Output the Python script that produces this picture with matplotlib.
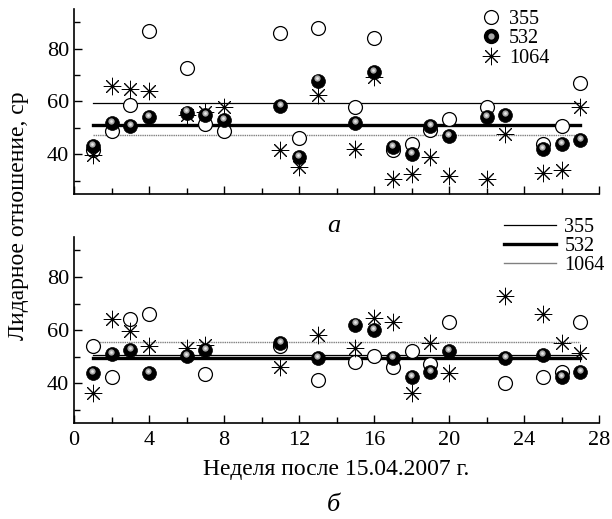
import matplotlib
matplotlib.use("Agg")
import matplotlib.pyplot as plt
import matplotlib.transforms as mtransforms
from matplotlib.lines import Line2D
from matplotlib.legend_handler import HandlerTuple
import numpy as np

nan = np.nan

# panel a: markers per week
weeks_a = [1, 2, 3, 4, 6, 7, 8, 11, 12, 13, 15, 16, 17, 18, 19, 20, 22, 23, 25, 26, 27]
c355_a = [41.5, 48.8, 58.7, 86.8, 72.7, 51.6, 49, 85.8, 46.2, 87.8, 57.8, 83.9, 41.5, 44,
          49.4, 53.3, 57.8, nan, 43.8, 50.9, 66.9]
c532_a = [43, 51.8, 50.8, 54, 55.8, 54.7, 53.1, 58.1, 39, 67.9, 52, 71, 42.8, 40.3,
          50.7, 47, 54, 55, 42.1, 44, 45.3]
c1064_a = [39.6, 66, 64.8, 63.9, 54.7, 56, 57.8, 41.8, 35.2, 62.3, 41.9, 69.4, 30.8, 32.7,
           39, 32, 30.8, 47.8, 32.9, 34, 57.8]
mean_a = {"355": 59.5, "532": 51.0, "1064": 47.3}

# panel b
weeks_b = [1, 2, 3, 4, 6, 7, 11, 13, 15, 16, 17, 18, 19, 20, 23, 25, 26, 27]
c355_b = [54.1, 42.2, 64.1, 65.9, nan, 43.3, 54, 41.2, 48, 50.2, 46.2, 52.2, 47.4, 63.1,
          40.2, 42.4, 44.3, 63.1]
c532_b = [43.9, 50.9, 52.4, 43.9, 50.2, 52.4, 55.2, 49.3, 62.1, 60, 49.3, 42.4, 44.3, 52.2,
          49.3, 50.6, 42.4, 44.3]
c1064_b = [36.2, 64.1, 59.6, 54, 53.1, 54.3, 46.2, 58.1, 53.3, 64.4, 63.1, 36.2, 55.2, 43.7,
           72.7, 65.9, 55, 51.2]
mean_b = {"355": 50.5, "532": 49.5, "1064": 55.5}

line_span = [1, 27]

plt.rcParams['font.family'] = ['Liberation Serif', 'DejaVu Serif']
plt.rcParams['font.size'] = 16

fig = plt.figure(figsize=(6.12, 5.19), dpi=100)
ax_a = fig.add_axes([0.121, 0.626, 0.858, 0.357])
ax_b = fig.add_axes([0.121, 0.185, 0.858, 0.358])

MS = 10


def draw_points(ax, weeks, c355, c532, c1064):
    ax.plot(weeks, c355, 'o', ms=MS, mfc='white', mec='black', mew=0.9, ls='none', zorder=3)
    ax.plot(weeks, c1064, marker=(8, 2, 0), ms=MS * 1.25, mec='black', mew=0.7,
            ls='none', zorder=4)
    ax.plot(weeks, c532, 'o', ms=MS, mfc='black', mec='black', mew=0.5, ls='none', zorder=5)
    hl = mtransforms.offset_copy(ax.transData, fig=fig, x=-0.5, y=1.5, units='points')
    ax.plot(weeks, c532, 'o', ms=MS * 0.45, mfc='#a8a8a8', mec='none', ls='none',
            transform=hl, zorder=6)
    ax.plot(weeks, c532, 'o', ms=MS * 0.2, mfc='#e8e8e8', mec='none', ls='none',
            transform=hl, zorder=7)


def draw_means(ax, means):
    ax.plot(line_span, [means["355"]] * 2, color='black', lw=0.9, zorder=2)
    ax.plot(line_span, [means["532"]] * 2, color='black', lw=2.4, zorder=2)
    ax.plot(line_span, [means["1064"]] * 2, color='#808080', lw=1.0, ls=(0, (1, 0.6)), zorder=2)


def style(ax, show_x):
    ax.set_xlim(0, 28)
    ax.set_ylim(25, 95)
    ax.set_xticks(range(0, 29, 4))
    ax.set_xticks(range(0, 29, 2), minor=True)
    ax.set_yticks([40, 60, 80])
    ax.set_yticks([30, 50, 70, 90], minor=True)
    ax.tick_params(which='both', direction='in', width=1.0, labelsize=16)
    ax.tick_params(which='major', length=6)
    ax.tick_params(which='minor', length=4)
    ax.tick_params(axis='x', labelbottom=show_x, pad=6)
    for s in ['top', 'right']:
        ax.spines[s].set_visible(False)
    for s in ['left', 'bottom']:
        ax.spines[s].set_linewidth(1.2)


draw_points(ax_a, weeks_a, c355_a, c532_a, c1064_a)
draw_means(ax_a, mean_a)
style(ax_a, False)

draw_points(ax_b, weeks_b, c355_b, c532_b, c1064_b)
draw_means(ax_b, mean_b)
style(ax_b, True)

# legends
h355 = Line2D([], [], marker='o', ms=MS, mfc='white', mec='black', mew=0.9, ls='none')
h532 = (Line2D([], [], marker='o', ms=MS, mfc='black', mec='black', ls='none'),
        Line2D([], [], marker='o', ms=MS * 0.45, mfc='#a8a8a8', mec='none', ls='none'))
h1064 = Line2D([], [], marker=(8, 2, 0), ms=MS * 1.25, mec='black', mew=0.7, ls='none')
leg_a = ax_a.legend([h355, h532, h1064], ['355', '532', '1064'],
                    handler_map={tuple: HandlerTuple(ndivide=1, pad=0)},
                    loc='upper right', bbox_to_anchor=(0.94, 1.09), frameon=False,
                    handlelength=1.0, handletextpad=0.4, labelspacing=0.0, fontsize=14.5)

l355 = Line2D([], [], color='black', lw=0.9)
l532 = Line2D([], [], color='black', lw=2.4)
l1064 = Line2D([], [], color='#808080', lw=1.0)
ax_b.legend([l355, l532, l1064], ['355', '532', '1064'], loc='upper right',
            bbox_to_anchor=(1.045, 1.2), frameon=False, handlelength=2.6,
            handletextpad=0.4, labelspacing=0.0, fontsize=14.5)

ax_b.set_xlabel('Неделя после 15.04.2007 г.', fontsize=17, labelpad=6)
fig.text(0.03, 0.585, 'Лидарное отношение, ср', rotation=90, ha='center', va='center',
         fontsize=17)
fig.text(0.545, 0.565, 'а', style='italic', ha='center', va='center', fontsize=19)
fig.text(0.545, 0.027, 'б', style='italic', ha='center', va='center', fontsize=19)

fig.savefig('out.png', dpi=100)
